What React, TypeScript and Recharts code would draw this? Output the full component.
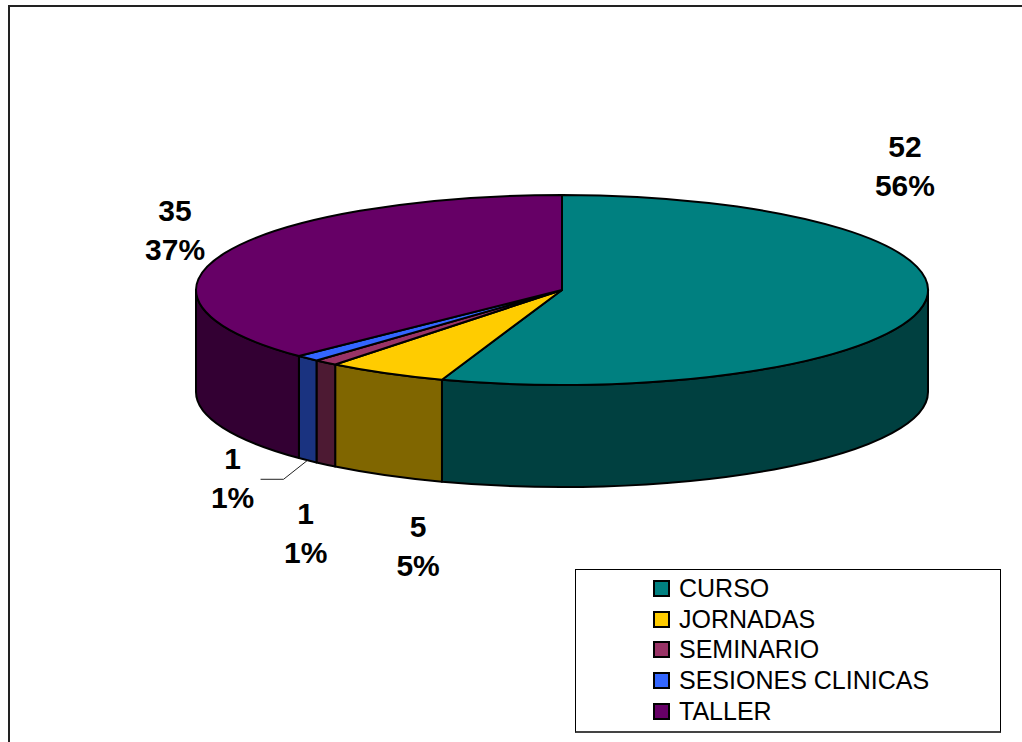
import { PieChart, Pie, Legend } from 'recharts';

const categories = ['CURSO', 'JORNADAS', 'SEMINARIO', 'SESIONES CLINICAS', 'TALLER'];
const counts = [52, 5, 1, 1, 35];
const percentLabels = ['56%', '5%', '1%', '1%', '37%'];
const colors = ['#008080', '#FFCC00', '#993366', '#3366FF', '#660066'];
const wallColors = ['#004040', '#806600', '#4D1A33', '#1A3380', '#330033'];

const tableData = categories.map((name, i) => ({
  name,
  value: counts[i],
  fill: colors[i],
  wall: wallColors[i],
  percentLabel: percentLabels[i],
}));

// the tilted look: vertical squash of the pie and height of the side wall
const SQUASH = 95 / 366;
const DEPTH = 102;
const FONT = '"Liberation Sans", Arial, sans-serif';

// label anchor, relative to the rim point of each slice's middle angle
const labelOffsets = [
  { dx: -18, dy: -149 },
  { dx: 32, dy: 164 },
  { dx: -20, dy: 161 },
  { dx: -75, dy: 111 },
  { dx: -50, dy: -32 },
];

function rimPoint(cx: number, cy: number, r: number, deg: number) {
  const rad = (deg * Math.PI) / 180;
  return { x: cx + r * Math.cos(rad), y: cy - r * SQUASH * Math.sin(rad) };
}

function TiltedSlice(props: any) {
  const { cx, cy, outerRadius: r, startAngle, endAngle, fill, wall } = props;
  const a = rimPoint(cx, cy, r, startAngle);
  const b = rimPoint(cx, cy, r, endAngle);
  const large = startAngle - endAngle > 180 ? 1 : 0;
  const ry = r * SQUASH;
  const top = `M${cx},${cy} L${a.x},${a.y} A${r},${ry} 0 ${large} 1 ${b.x},${b.y} Z`;

  // side wall only shows on the front half (0 to -180 degrees)
  const hi = Math.min(startAngle, 0);
  const lo = Math.max(endAngle, -180);
  let side = null;
  if (hi > lo) {
    const p = rimPoint(cx, cy, r, hi);
    const q = rimPoint(cx, cy, r, lo);
    side = `M${p.x},${p.y} A${r},${ry} 0 0 1 ${q.x},${q.y} L${q.x},${q.y + DEPTH} A${r},${ry} 0 0 0 ${p.x},${p.y + DEPTH} Z`;
  }

  return (
    <g>
      {side && <path d={side} fill={wall} stroke="#000" strokeWidth={2} strokeLinejoin="round" />}
      <path d={top} fill={fill} stroke="#000" strokeWidth={2} strokeLinejoin="round" />
    </g>
  );
}

function SliceLabel(props: any) {
  const { cx, cy, outerRadius: r, midAngle, index, value, percentLabel } = props;
  const rim = rimPoint(cx, cy, r, midAngle);
  const off = labelOffsets[index];
  const x = rim.x + off.dx;
  const y = rim.y + off.dy;
  const wallBottom = rim.y + DEPTH;
  return (
    <g>
      {index === 3 && (
        <polyline
          points={`${rim.x},${wallBottom} ${rim.x - 24},${wallBottom + 19} ${rim.x - 47},${wallBottom + 19}`}
          fill="none"
          stroke="#222"
          strokeWidth={1}
        />
      )}
      <text x={x} y={y} textAnchor="middle" fontFamily={FONT} fontWeight="bold" fontSize={30} fill="#000">
        <tspan x={x}>{value}</tspan>
        <tspan x={x} dy={39}>{percentLabel}</tspan>
      </text>
    </g>
  );
}

function LegendBox({ payload }: any) {
  return (
    <div
      style={{
        boxSizing: 'border-box',
        width: 426,
        height: 164,
        border: '1px solid #000',
        borderBottom: '2px solid #444',
        background: '#fff',
        paddingTop: 3,
        paddingLeft: 77,
      }}
    >
      {(payload || []).map((item: any) => (
        <div
          key={item.value}
          style={{ display: 'flex', alignItems: 'center', height: 30.8, fontFamily: FONT, fontSize: 25, color: '#000', whiteSpace: 'nowrap' }}
        >
          <span style={{ boxSizing: 'border-box', width: 17, height: 17, marginRight: 9, background: item.color, border: '2px solid #000', flex: 'none' }} />
          {item.value}
        </div>
      ))}
    </div>
  );
}

export default function App() {
  return (
    <div
      style={{
        position: 'absolute',
        left: 0,
        top: 0,
        width: 1022,
        height: 742,
        overflow: 'hidden',
        background: '#fff',
      }}
    >
      <div style={{ position: 'absolute', left: 8, top: 5, width: 1014, height: 737, borderLeft: '2px solid #222', borderTop: '2px solid #222', boxSizing: 'border-box' }} />
      <div style={{ position: 'absolute', left: 0, top: 0 }}>
        <PieChart width={1022} height={742} margin={{ top: 0, right: 0, bottom: 0, left: 0 }}>
          <Pie
            data={tableData}
            dataKey="value"
            nameKey="name"
            cx={562}
            cy={290}
            innerRadius={0}
            outerRadius={366}
            startAngle={90}
            endAngle={-270}
            stroke="#000"
            shape={TiltedSlice}
            label={SliceLabel}
            labelLine={false}
            isAnimationActive={false}
          />
          <Legend
            layout="vertical"
            align="right"
            verticalAlign="bottom"
            content={LegendBox}
            wrapperStyle={{ position: 'absolute', left: 575, top: 569, right: 'auto', bottom: 'auto', width: 426 }}
          />
        </PieChart>
      </div>
    </div>
  );
}
